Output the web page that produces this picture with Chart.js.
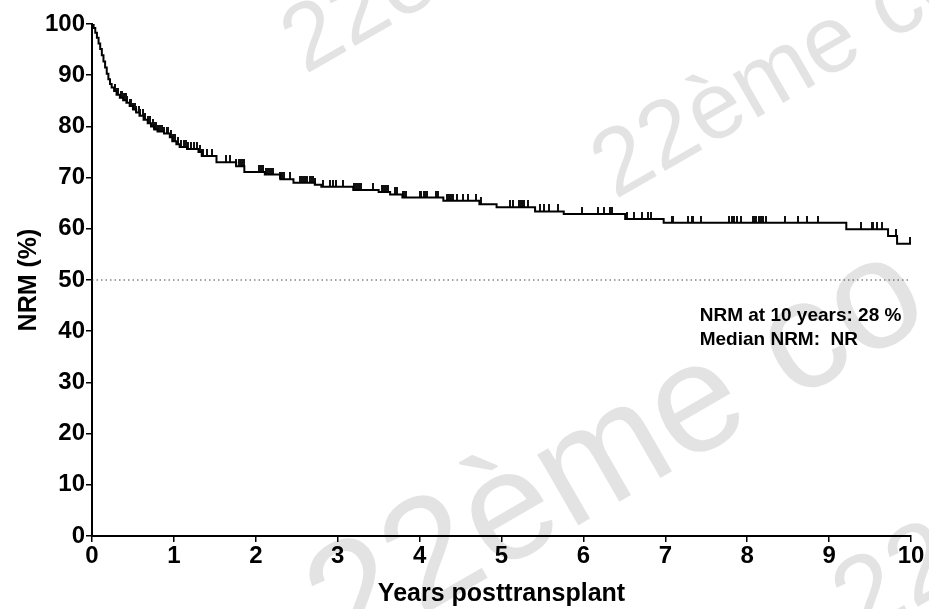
<!DOCTYPE html>
<html lang="en">
<head>
    <meta charset="UTF-8">
    <title>NRM Kaplan-Meier</title>
    <script src="https://cdn.jsdelivr.net/npm/chart.js@4.4.1/dist/chart.umd.js"></script>
    <style>
        body { margin: 0; background: #fff; }
        #wrap { width: 929px; height: 609px; }
    </style>
</head>
<body>
    <div id="wrap"><canvas id="nrmChart" width="929" height="609"></canvas></div>

    <script>
        // step curve: time of each event (years) and NRM-free value after it (%)
        const eventYears = [0, 0.02, 0.04, 0.06, 0.08, 0.10, 0.12, 0.14, 0.16, 0.18, 0.20, 0.22, 0.24,
            0.27, 0.30, 0.34, 0.38, 0.42, 0.46, 0.50, 0.54, 0.58, 0.63, 0.68, 0.72, 0.76, 0.80, 0.88,
            0.95, 0.98, 1.03, 1.07, 1.16, 1.30, 1.34, 1.52, 1.76, 1.86, 2.11, 2.30, 2.46, 2.72, 2.80,
            3.19, 3.50, 3.64, 3.79, 4.29, 4.73, 4.94, 5.41, 5.76, 6.51, 6.98, 9.21, 9.72, 9.83, 10.0];
        const nrmFree = [100, 99.2, 98.3, 97.3, 96.2, 95.1, 93.9, 92.7, 91.5, 90.3, 89.2, 88.3, 87.6,
            86.9, 86.2, 85.6, 85.1, 84.6, 84.0, 83.3, 82.7, 82.1, 81.3, 80.6, 80.0, 79.4, 79.0, 78.6,
            77.9, 77.1, 76.5, 76.0, 75.6, 75.0, 74.2, 73.0, 72.2, 71.1, 70.6, 69.7, 69.0, 68.6, 68.2,
            67.6, 67.2, 66.7, 66.1, 65.5, 64.8, 64.2, 63.4, 62.9, 61.9, 61.2, 59.9, 58.6, 57.1, 57.1];

        // censored patients (years)
        const censorYears = [0.28, 0.30, 0.32, 0.35, 0.37, 0.39, 0.41, 0.43, 0.46, 0.48, 0.50, 0.52,
            0.54, 0.57, 0.59, 0.62, 0.65, 0.68, 0.71, 0.74, 0.76, 0.78, 0.81, 0.83, 0.86, 0.88, 0.91,
            0.93, 0.96, 0.99, 1.01, 1.05, 1.09, 1.12, 1.15, 1.17, 1.21, 1.25, 1.28, 1.32,
            1.34, 1.36, 1.40, 1.47, 1.64, 1.68, 1.76, 1.79, 1.81, 1.83, 1.85, 2.04, 2.06, 2.08, 2.09,
            2.12, 2.15, 2.16, 2.19, 2.21, 2.30, 2.32, 2.34, 2.42, 2.54, 2.56, 2.58, 2.60, 2.62, 2.66,
            2.68, 2.70, 2.72, 2.82, 2.90, 2.94, 2.98, 3.06, 3.20, 3.22, 3.24, 3.26, 3.28, 3.43,
            3.54, 3.56, 3.58, 3.60, 3.62, 3.70, 3.72, 3.80, 3.81, 3.83, 4.00, 4.02, 4.05, 4.07, 4.09,
            4.20, 4.23, 4.33, 4.35, 4.37, 4.39, 4.41, 4.46, 4.53, 4.59, 4.69, 4.75, 5.10, 5.14, 5.21,
            5.23, 5.25, 5.27, 5.32, 5.47, 5.52, 5.58, 5.69, 5.98, 6.18, 6.25, 6.32, 6.35, 6.53, 6.62,
            6.71, 6.79, 6.83, 7.08, 7.10, 7.28, 7.32, 7.34, 7.44, 7.78, 7.81, 7.84, 7.88, 7.93, 8.07,
            8.09, 8.11, 8.14, 8.17, 8.19, 8.23, 8.46, 8.62, 8.73, 8.86, 9.39, 9.52, 9.54, 9.58, 9.64,
            9.82, 9.99];

        const refYears = [0, 10];
        const refLine = [50, 50];

        const xTicks = [0, 1, 2, 3, 4, 5, 6, 7, 8, 9, 10];
        const yTicks = [0, 10, 20, 30, 40, 50, 60, 70, 80, 90, 100];

        const noteLines = ['NRM at 10 years: 28 %', 'Median NRM:  NR'];
        const watermark = '22ème co';

        const FONT = '"Liberation Sans", Arial, sans-serif';

        function valueAt(t) {
            let v = nrmFree[0];
            for (let i = 0; i < eventYears.length; i++) {
                if (eventYears[i] <= t) v = nrmFree[i];
            }
            return v;
        }

        // censor mark: short vertical bar sitting on top of the curve
        const tick = document.createElement('canvas');
        tick.width = 2;
        tick.height = 14;
        const tctx = tick.getContext('2d');
        tctx.fillStyle = '#111';
        tctx.fillRect(0, 0, 2, 7);

        const curvePts = eventYears.map((t, i) => ({ x: t, y: nrmFree[i] }));
        const censorPts = censorYears.map(t => ({ x: t, y: valueAt(t) }));
        const refPts = refYears.map((t, i) => ({ x: t, y: refLine[i] }));

        const watermarkPlugin = {
            id: 'watermark',
            beforeDraw(chart) {
                const ctx = chart.ctx;
                const marks = [
                    { x: 305, y: 75, size: 95 },
                    { x: 615, y: 200, size: 95 },
                    { x: 345, y: 660, size: 155 },
                    { x: 860, y: 640, size: 110 }
                ];
                ctx.save();
                ctx.fillStyle = 'rgba(0, 0, 0, 0.11)';
                marks.forEach(m => {
                    ctx.save();
                    ctx.translate(m.x, m.y);
                    ctx.rotate(-30 * Math.PI / 180);
                    ctx.font = m.size + 'px ' + FONT;
                    ctx.textBaseline = 'alphabetic';
                    ctx.fillText(watermark, 0, 0);
                    ctx.restore();
                });
                ctx.restore();
            }
        };

        const notesPlugin = {
            id: 'notes',
            afterDatasetsDraw(chart) {
                const ctx = chart.ctx;
                const xs = chart.scales.x, ys = chart.scales.y;
                ctx.save();
                ctx.fillStyle = '#000';
                ctx.font = 'bold 19px ' + FONT;
                ctx.textBaseline = 'alphabetic';
                ctx.textAlign = 'left';
                const left = xs.getPixelForValue(7.42);
                ctx.fillText(noteLines[0], left, ys.getPixelForValue(42.0));
                ctx.fillText(noteLines[1], left, ys.getPixelForValue(37.3));
                ctx.restore();
            }
        };

        const axisGrid = {
            display: true,
            drawOnChartArea: false,
            drawTicks: true,
            tickLength: 6,
            color: '#000',
            lineWidth: 1.5
        };

        new Chart(document.getElementById('nrmChart'), {
            type: 'scatter',
            data: {
                datasets: [
                    {
                        label: 'NRM-free',
                        data: curvePts,
                        showLine: true,
                        stepped: true,
                        borderColor: '#000',
                        borderWidth: 2,
                        pointRadius: 0,
                        fill: false
                    },
                    {
                        label: 'Censored',
                        data: censorPts,
                        showLine: false,
                        pointStyle: tick,
                        pointRadius: 3
                    },
                    {
                        label: '50%',
                        data: refPts,
                        showLine: true,
                        borderColor: '#444',
                        borderWidth: 1,
                        borderDash: [1.5, 3],
                        pointRadius: 0
                    }
                ]
            },
            options: {
                responsive: false,
                animation: false,
                layout: { padding: { top: 24, right: 18, left: 0, bottom: 0 } },
                plugins: {
                    legend: { display: false },
                    tooltip: { enabled: false }
                },
                scales: {
                    x: {
                        type: 'linear',
                        min: 0,
                        max: 10,
                        afterBuildTicks: s => { s.ticks = xTicks.map(v => ({ value: v })); },
                        afterFit: s => { s.height = 73; },
                        grid: axisGrid,
                        border: { display: true, color: '#000', width: 2 },
                        ticks: {
                            color: '#000',
                            padding: 0,
                            maxRotation: 0,
                            font: { family: FONT, size: 24, weight: 'bold' }
                        },
                        title: {
                            display: true,
                            text: 'Years posttransplant',
                            color: '#000',
                            padding: { top: 0, bottom: 0 },
                            font: { family: FONT, size: 25, weight: 'bold' }
                        }
                    },
                    y: {
                        type: 'linear',
                        min: 0,
                        max: 100,
                        afterBuildTicks: s => { s.ticks = yTicks.map(v => ({ value: v })); },
                        afterFit: s => { s.width = 92; },
                        grid: axisGrid,
                        border: { display: true, color: '#000', width: 2 },
                        ticks: {
                            color: '#000',
                            padding: 1,
                            font: { family: FONT, size: 24, weight: 'bold' }
                        },
                        title: {
                            display: true,
                            text: 'NRM (%)',
                            color: '#000',
                            padding: { top: 14, bottom: 0 },
                            font: { family: FONT, size: 25, weight: 'bold' }
                        }
                    }
                }
            },
            plugins: [watermarkPlugin, notesPlugin]
        });
    </script>
</body>
</html>
